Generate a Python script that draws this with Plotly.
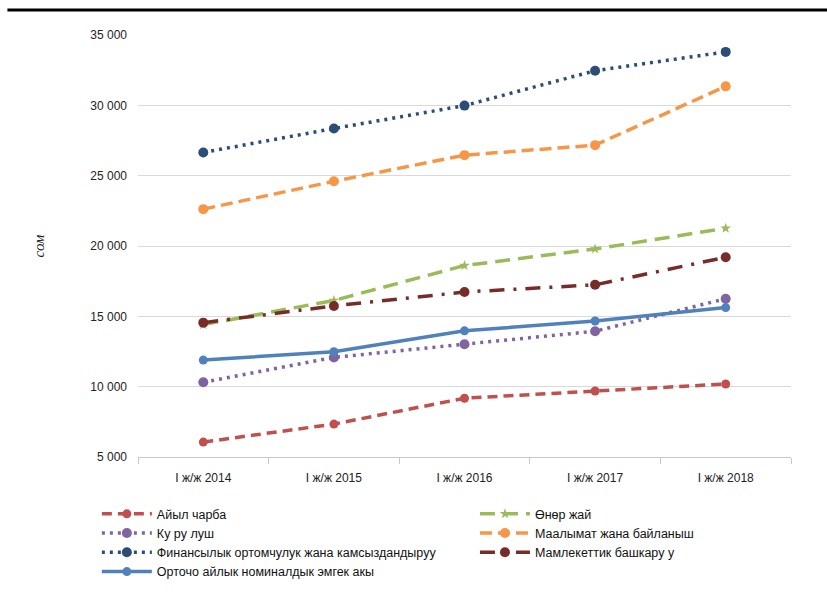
import plotly.graph_objects as go

categories = ["I ж/ж 2014", "I ж/ж 2015", "I ж/ж 2016", "I ж/ж 2017", "I ж/ж 2018"]

names = [
    "Айыл чарба",
    "Өнөр жай",
    "Ку ру луш",
    "Маалымат жана байланыш",
    "Финансылык ортомчулук жана камсыздандыруу",
    "Мамлекеттик башкару у",
    "Орточо айлык номиналдык эмгек акы",
]

aiyl = [6060, 7340, 9180, 9690, 10190]
onor = [14410, 16130, 18610, 19790, 21260]
kurulush = [10310, 12080, 13020, 13940, 16250]
maalymat = [22620, 24600, 26460, 27170, 31350]
finans = [26650, 28350, 29980, 32460, 33800]
mamlek = [14550, 15740, 16730, 17240, 19200]
orto = [11890, 12480, 13970, 14670, 15620]

series = [aiyl, onor, kurulush, maalymat, finans, mamlek, orto]
colors = ["#C0504D", "#9BBB59", "#8064A2", "#F79646", "#2C4D75", "#772C2A", "#4F81BD"]
dashes = ["10px,6px", "15px,8px", "3px,5px", "12px,6px", "3px,5px", "15px,9px,3px,9px", "solid"]
msizes = [9, 8, 10, 10, 10, 10, 9]
symbols = ["circle", "star", "circle", "circle", "circle", "circle", "circle"]
legend_ids = ["legend", "legend2", "legend", "legend2", "legend", "legend2", "legend"]

fig = go.Figure()
for name, vals, col, dash, ms, sym, lg in zip(names, series, colors, dashes, msizes, symbols, legend_ids):
    fig.add_trace(go.Scatter(
        x=categories, y=vals, name=name, mode="lines+markers",
        line=dict(color=col, width=3.5, dash=dash),
        marker=dict(color=col, size=ms, symbol=sym),
        legend=lg,
    ))

legend_common = dict(
    orientation="v", xanchor="left", yanchor="top", itemwidth=50,
    font=dict(size=12.5, color="#111111"), tracegroupgap=0, traceorder="normal",
    bgcolor="rgba(0,0,0,0)",
)

fig.update_layout(
    width=827, height=598,
    margin=dict(l=138, r=36, t=35, b=139),
    paper_bgcolor="white", plot_bgcolor="white",
    font=dict(family="Liberation Sans, Arial, sans-serif", size=12, color="#222222"),
    separators=", ",
    showlegend=True,
    legend=dict(x=-0.063, y=-0.1, **legend_common),
    legend2=dict(x=0.516, y=-0.1, **legend_common),
    xaxis=dict(
        type="category", range=[-0.5, 4.5], showgrid=False, showline=True,
        linecolor="#C8C8C8", linewidth=1,
        ticks="outside", tickson="boundaries", ticklen=6, tickcolor="#C8C8C8",
        ticklabelstandoff=10,
        tickfont=dict(size=12, color="#222222"),
    ),
    yaxis=dict(
        range=[5000, 35000], tickvals=[5000, 10000, 15000, 20000, 25000, 30000, 35000],
        tickformat=",d", showgrid=True, gridcolor="#D9D9D9", gridwidth=1,
        zeroline=False, showline=False, ticks="", ticklabelstandoff=10,
        tickfont=dict(size=12, color="#222222"),
        title=dict(text="сом", standoff=42,
                   font=dict(family="Liberation Serif, Times New Roman, serif", size=15,
                             style="italic", color="#222222")),
    ),
    shapes=[dict(type="line", xref="paper", yref="paper", x0=-0.2, x1=1.06,
                 y0=1.059, y1=1.059, line=dict(color="black", width=3))],
)

fig.write_html("out.html")
